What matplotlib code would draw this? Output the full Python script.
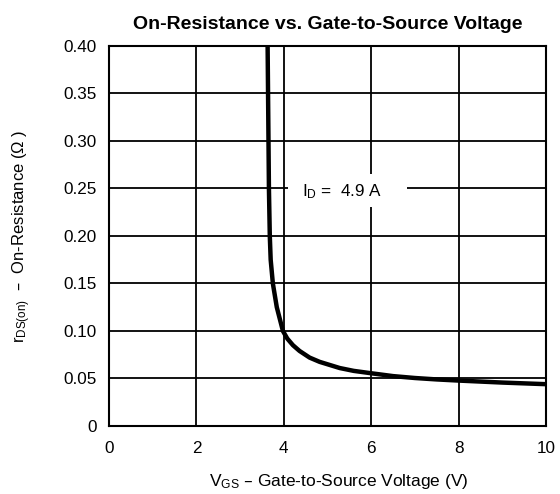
import matplotlib
matplotlib.use("Agg")
import matplotlib.pyplot as plt
from matplotlib.patches import Rectangle

plt.rcParams['font.family'] = ['Liberation Sans', 'DejaVu Sans']
plt.rcParams['mathtext.default'] = 'regular'

# On-resistance curve, I_D = 4.9 A
vgs = [3.62, 3.63, 3.64, 3.65, 3.66, 3.68, 3.70, 3.75, 3.84, 3.98,
       4.08, 4.21, 4.36, 4.59, 4.82, 5.28, 5.6, 6.0, 6.5, 7.0, 7.5, 8.0, 9.0, 10.0]
rds = [0.42, 0.40, 0.35, 0.30, 0.25, 0.20, 0.175, 0.15, 0.125, 0.100,
       0.092, 0.085, 0.079, 0.072, 0.0675, 0.061, 0.058, 0.0555, 0.0525,
       0.0505, 0.049, 0.0478, 0.0457, 0.044]

x_ticks = [0, 2, 4, 6, 8, 10]
y_ticks = [0, 0.05, 0.10, 0.15, 0.20, 0.25, 0.30, 0.35, 0.40]
y_tick_labels = ['0', '0.05', '0.10', '0.15', '0.20', '0.25', '0.30', '0.35', '0.40']

fig = plt.figure(figsize=(5.6, 4.94), dpi=100)
ax = fig.add_axes([0.1946, 0.1377, 0.7804, 0.7692])

ax.set_xlim(0, 10)
ax.set_ylim(0, 0.40)
ax.set_xticks(x_ticks)
ax.set_xticklabels([str(t) for t in x_ticks])
ax.set_yticks(y_ticks)
ax.set_yticklabels(y_tick_labels)
ax.tick_params(length=0, labelsize=12.3)
ax.tick_params(axis='x', pad=11)
ax.tick_params(axis='y', pad=9)
ax.set_axisbelow(True)
ax.grid(True, color='black', lw=1.3)
for s in ax.spines.values():
    s.set_linewidth(1.5)

ax.plot(vgs, rds, color='black', lw=3.2, zorder=3,
        solid_capstyle='butt', solid_joinstyle='round')

# white gap in the grid behind the label
ax.add_patch(Rectangle((4.1, 0.230), 2.72, 0.035, facecolor='white',
                       edgecolor='none', zorder=1.5))
ax.text(5.33, 0.247, r'$I_D$ =  4.9 A', ha='center', va='center',
        fontsize=12.3, zorder=4)

ax.set_title('On-Resistance vs. Gate-to-Source Voltage', fontsize=14,
             fontweight='bold', pad=12)
ax.set_xlabel(r'$V_{GS}$ – Gate-to-Source Voltage (V)', fontsize=12.5, labelpad=11)
ax.xaxis.label.set_x(0.525)
ax.set_ylabel(r'$r_{DS(on)}$  –  On-Resistance ($\Omega$ )', fontsize=12, labelpad=22)

fig.savefig('out.png', dpi=100)
